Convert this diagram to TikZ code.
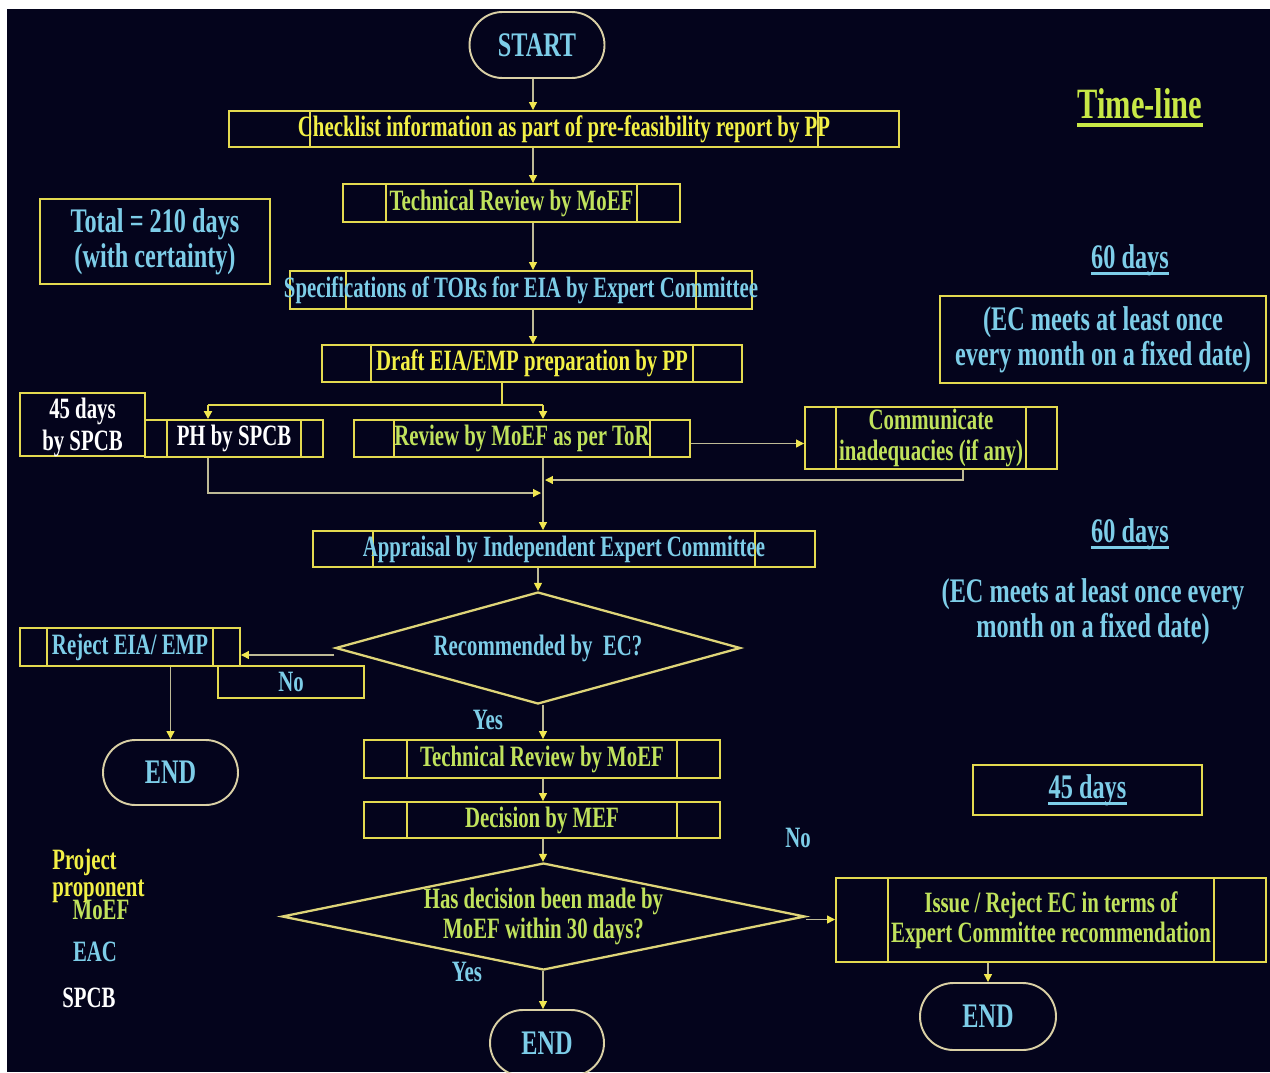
\documentclass[tikz,border=0pt]{standalone}
\usepackage{fontspec}
\setmainfont[FakeStretch=0.705]{Liberation Serif}
\usetikzlibrary{shapes.geometric,shapes.misc,arrows.meta}
\definecolor{bgc}{RGB}{4,4,28}
\definecolor{boxc}{RGB}{228,218,80}
\definecolor{ytext}{RGB}{242,240,70}
\definecolor{gtext}{RGB}{192,226,92}
\definecolor{ctext}{RGB}{125,205,232}
\definecolor{termc}{RGB}{218,208,165}
\definecolor{diac}{RGB}{222,212,120}
\definecolor{connc}{RGB}{190,186,150}
\definecolor{arrc}{RGB}{240,230,80}
\definecolor{tlc}{RGB}{200,232,70}
\newcommand\fsnorm{\fontsize{16.8}{17.3}\selectfont\bfseries}
\newcommand\fsbig{\fontsize{19.6}{19.8}\selectfont\bfseries}
\newcommand\fstl{\fontsize{24.6}{26}\selectfont\bfseries}
\begin{document}
\begin{tikzpicture}[x=0.02cm,y=-0.02cm,
  sz/.style 2 args={minimum width=#1*0.02cm,minimum height=#2*0.02cm},
  plainbox/.style={draw=boxc,line width=1.1pt,rectangle,inner sep=0pt,align=center,font=\fsnorm},
  pbox/.style={plainbox,path picture={\draw[boxc,line width=1.1pt]
      ([xshift=#1*0.02cm]path picture bounding box.north west) -- ([xshift=#1*0.02cm]path picture bounding box.south west)
      ([xshift=-#1*0.02cm]path picture bounding box.north east) -- ([xshift=-#1*0.02cm]path picture bounding box.south east);}},
  termnode/.style={draw=termc,line width=1.1pt,rounded rectangle,inner sep=0pt,text=ctext,font=\fsbig},
  dia/.style={draw=diac,line width=1.3pt,diamond,inner sep=0pt,align=center,font=\fsnorm},
  conn/.style={draw=connc,line width=0.7pt,-{Triangle[length=4.5pt,width=4.5pt,color=arrc]}},
  yline/.style={draw=boxc,line width=1.1pt},
  yarrow/.style={yline,-{Triangle[length=4.5pt,width=4.5pt,color=arrc]}},
  lbl/.style={inner sep=0pt,align=center,font=\fsnorm}
]
\useasboundingbox (0,0) rectangle (1270,1072);
\clip (0,0) rectangle (1270,1072);
\fill[white] (0,0) rectangle (1270,1072);
\fill[bgc] (7,9) rectangle (1270,1072);

% reference coordinates
\coordinate (ax) at (543,0);
\coordinate (mx) at (533,0);
\coordinate (br) at (502,405);
\coordinate (phx) at (208,0);
\coordinate (cbx) at (963,0);
\coordinate (j1) at (545,480);
\coordinate (j2) at (541,493);

% main flow
\node[termnode,sz={135}{66}] (start) at (537,45) {START};
\node[pbox=81,sz={670}{36},text=ytext] (chk) at (564,129) {Checklist information as part of pre-feasibility report by PP};
\node[pbox=43,sz={337}{38},text=gtext] (tr1) at (511.5,203) {Technical Review by MoEF};
\node[pbox=56,sz={462}{38},text=ctext] (spec) at (521,290) {\makebox[0pt][c]{Specifications of TORs for EIA by Expert Committee}};
\node[pbox=49,sz={420}{37},text=ytext] (draft) at (532,363.5) {Draft EIA/EMP preparation by PP};
\node[plainbox,sz={125}{63},text=white,font=\fsnorm,text depth=0pt] (spcb45) at (82.5,424.5) {45 days\\[1pt]by SPCB};
\node[pbox=22,sz={178}{37},text=white] (ph) at (234,438.5) {PH by SPCB};
\node[pbox=40,sz={336}{37},text=gtext] (rev) at (522,438.5) {Review by MoEF as per ToR};
\node[pbox=31,sz={252}{62},text=gtext] (comm) at (931,438) {Communicate\\inadequacies (if any)};
\node[pbox=60,sz={502}{36},text=ctext] (app) at (564,549) {Appraisal by Independent Expert Committee};
\node[dia,aspect=3.6,sz={405}{112},text=ctext] (d1) at (538,648) {Recommended by\ \ EC?};
\node[pbox=27,sz={220}{38},text=ctext] (rej) at (130,647) {Reject EIA/ EMP};
\node[plainbox,sz={146}{32},text=ctext] (nobox) at (291,682) {No};
\node[termnode,sz={135}{65}] (end1) at (170.5,772.5) {END};
\node[lbl,text=ctext] (yes1) at (488,720) {Yes};
\node[pbox=43,sz={356}{38},text=gtext] (tr2) at (542,759) {Technical Review by MoEF};
\node[pbox=43,sz={356}{36},text=gtext] (dec) at (542,820) {Decision by MEF};
\node[dia,aspect=4.9,sz={523}{107},text=gtext] (d2) at (543.5,916.5) {Has decision been made by\\MoEF within 30 days?};
\node[lbl,text=ctext] (yes2) at (467,972) {Yes};
\node[lbl,text=ctext] (no2) at (798,838) {No};
\node[pbox=52,sz={430}{84},text=gtext] (issue) at (1051,920) {Issue / Reject EC in terms of\\Expert Committee recommendation};
\node[termnode,sz={136}{67}] (end2) at (988,1016.5) {END};
\node[termnode,sz={114}{66}] (end3) at (547,1043) {END};

% side information
\node[plainbox,sz={230}{85},text=ctext,font=\fsbig] (total) at (155,241.5) {Total = 210 days\\(with certainty)};
\node[lbl,text=tlc,font=\fstl] (tl) at (1140,104) {Time-line};
\draw[tlc,line width=1.8pt] ([yshift=-3.5pt]tl.base west) -- ([yshift=-3.5pt]tl.base east);
\node[lbl,text=ctext,font=\fsbig] (d60a) at (1130,260) {60 days};
\draw[ctext,line width=1.3pt] ([yshift=-3pt]d60a.base west) -- ([yshift=-3pt]d60a.base east);
\node[plainbox,sz={326}{87},text=ctext,font=\fsbig] (ec1) at (1103,339.5) {(EC meets at least once\\every month on a fixed date)};
\node[lbl,text=ctext,font=\fsbig] (d60b) at (1130,534) {60 days};
\draw[ctext,line width=1.3pt] ([yshift=-3pt]d60b.base west) -- ([yshift=-3pt]d60b.base east);
\node[lbl,text=ctext,font=\fsbig] (ec2) at (1093,612) {(EC meets at least once every\\month on a fixed date)};
\node[plainbox,sz={229}{50}] (b45) at (1087.5,790) {};
\node[lbl,text=ctext,font=\fsbig] (d45) at (b45) {45 days};
\draw[ctext,line width=1.3pt] ([yshift=-3pt]d45.base west) -- ([yshift=-3pt]d45.base east);

% legend
\node[lbl,text=ytext,anchor=west] (lg1) at (52,862) {Project};
\node[lbl,text=ytext,anchor=west] (lg2) at (52,891) {proponent};
\node[lbl,text=gtext] (lg3) at (101,910) {MoEF};
\node[lbl,text=ctext] (lg4) at (95,952) {EAC};
\node[lbl,text=white] (lg5) at (89,998) {SPCB};

% connectors
\draw[conn] (start.south -| mx) -- (chk.north -| mx);
\draw[conn] (chk.south -| mx) -- (tr1.north -| mx);
\draw[conn] (tr1.south -| mx) -- (spec.north -| mx);
\draw[conn] (spec.south -| mx) -- (draft.north -| mx);
\draw[yline] (draft.south -| br) -- (br);
\draw[yline] (br -| phx) -- (br -| ax);
\draw[yarrow] (br -| phx) -- (ph.north -| phx);
\draw[yarrow] (br -| ax) -- (rev.north -| ax);
\draw[conn] ([yshift=-0.1cm]rev.east) -- ([yshift=-0.1cm]rev.east -| comm.west);
\draw[conn] (comm.south -| cbx) |- (j1);
\draw[conn] (ph.south -| phx) |- (j2);
\draw[conn] (rev.south -| ax) -- (app.north -| ax);
\draw[conn] (app.south -| d1.north) -- (d1.north);
\draw[conn] ([yshift=-0.14cm]d1.west) -- ([yshift=-0.14cm]d1.west -| rej.east);
\draw[conn] (rej.south -| end1) -- (end1.north);
\draw[conn] (d1.south -| ax) -- (tr2.north -| ax);
\draw[conn] (tr2.south -| ax) -- (dec.north -| ax);
\draw[conn] (dec.south -| ax) -- (d2.north -| ax);
\draw[conn] ([yshift=-0.06cm]d2.east) -- ([yshift=-0.06cm]d2.east -| issue.west);
\draw[conn] (issue.south -| end2) -- (end2.north);
\draw[conn] (d2.south -| ax) -- (end3.north -| ax);
\end{tikzpicture}
\end{document}
